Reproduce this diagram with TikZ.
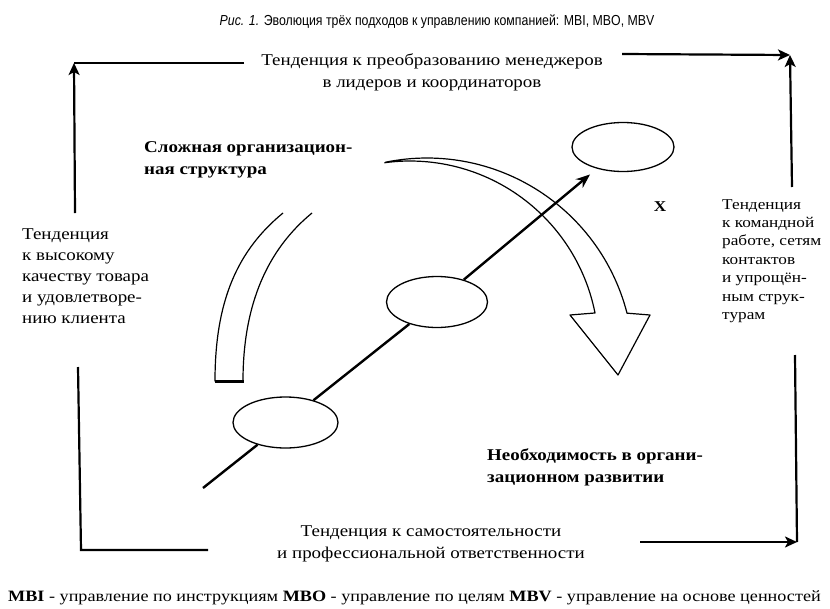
\documentclass[tikz,border=0pt]{standalone}
\usepackage{fontspec}
\setmainfont{Liberation Serif}
\newfontfamily\wserif[FakeStretch=1.15]{Liberation Serif}
\newfontfamily\titlefont[FakeStretch=0.85]{Liberation Sans}
\usetikzlibrary{arrows.meta,shapes.geometric}
\begin{document}
\begin{tikzpicture}[x=1pt,y=-1pt,
  frame/.style={line width=2.2pt},
  farrow/.style={frame,-{Stealth[length=12pt,width=11pt,inset=3pt]}},
  band/.style={line width=1.2pt,line join=round},
  oval/.style={draw,ellipse,line width=1.3pt,fill=white,inner sep=0pt},
  axisline/.style={line width=2.4pt},
  ctext/.style={inner sep=0pt,align=center,font=\wserif\fontsize{16.5}{22.5}\selectfont},
  ltext/.style={inner sep=0pt,align=left,font=\wserif\fontsize{16.5}{21}\selectfont},
  rtext/.style={inner sep=0pt,align=left,font=\wserif\fontsize{15}{18.4}\selectfont},
  btext/.style={inner sep=0pt,align=left,font=\wserif\fontsize{16.5}{22}\selectfont\bfseries}]
\useasboundingbox (0,0) rectangle (830,608);

% title
\node[inner sep=0pt,anchor=base,font=\titlefont\fontsize{14.5}{16}\selectfont] (title) at (437,25)
  {\textit{Рис. 1.} Эволюция трёх подходов к управлению компанией: MBI, MBO, MBV};

% frame texts (base anchor = baseline of last line)
\node[ctext,anchor=base] (toptext) at (432,87.5) {Тенденция к преобразованию менеджеров\\в лидеров и координаторов};
\node[ctext,anchor=base] (bottext) at (431,558.5) {Тенденция к самостоятельности\\и профессиональной ответственности};
\node[ltext,anchor=base west] (lefttext) at (22,323) {Тенденция\\к высокому\\качеству товара\\и удовлетворе-\\нию клиента};
\node[rtext,anchor=base west] (righttext) at (722,319.4) {Тенденция\\к командной\\работе, сетям\\контактов\\и упрощён-\\ным струк-\\турам};

% frame
\coordinate (TL) at (74,63);
\coordinate (TR) at (790,55);
\coordinate (BL) at (81,550);
\coordinate (BR) at (797,542);
\coordinate (t1) at (244,63);
\coordinate (t2) at (622,54);
\coordinate (l1) at (75,213);
\coordinate (l2) at (78,367);
\coordinate (b1) at (208,550);
\coordinate (b2) at (640,542);
\coordinate (r1) at (792,187);
\coordinate (r2) at (795,355);
\draw[frame] (t1) -- (TL);
\draw[farrow] (l1) -- (TL);
\draw[farrow] (t2) -- (TR);
\draw[farrow] (r1) -- (TR);
\draw[frame,line join=miter] (l2) -- (BL) -- (b1);
\draw[farrow] (b2) -- (BR);
\draw[frame] (r2) -- (BR);

% left curved band
\draw[band] (283,213) .. controls (238,250) and (215,300) .. (215,381)
  -- (243,381) .. controls (243,305) and (267,250) .. (312,213);
\draw[line width=3pt] (215,381) -- (244,381);

% big curved arrow
\draw[band] plot[domain=101.7:14.4,samples=60] ({427+206.5*cos(\x)},{364.5-206.5*sin(\x)})
  -- (650,315) -- (618,375) -- (570,315)
  -- plot[domain=11.2:97.8,samples=60] ({410+188.6*cos(\x)},{349.6-188.6*sin(\x)});

% ellipses and axis
\node[oval,minimum width=105pt,minimum height=51pt] (e1) at (285.5,422.5) {};
\node[oval,minimum width=101pt,minimum height=51pt] (e2) at (437,302) {};
\node[oval,minimum width=102pt,minimum height=49pt] (e3) at (623,147) {};
\coordinate (a0) at (203,488);
\draw[axisline] (a0) -- (e1);
\draw[axisline] (e1) -- (e2);
\draw[axisline,-{Stealth[length=14pt,width=11pt]},shorten >=9pt] (e2) -- (e3);

% labels
\node[btext,anchor=base west] (complex) at (144,174) {Сложная организацион-\\ная структура};
\node[btext,anchor=base west] (need) at (487,482) {Необходимость в органи-\\зационном развитии};
\node[inner sep=0pt,font=\wserif\fontsize{15}{18}\selectfont\bfseries] (x) at (660,207) {X};

% footer
\node[inner sep=0pt,anchor=base west,font=\wserif\fontsize{15.8}{18}\selectfont] (footer) at (8,601)
  {\textbf{MBI} - управление по инструкциям \textbf{MBO} - управление по целям \textbf{MBV} - управление на основе ценностей};
\end{tikzpicture}
\end{document}
